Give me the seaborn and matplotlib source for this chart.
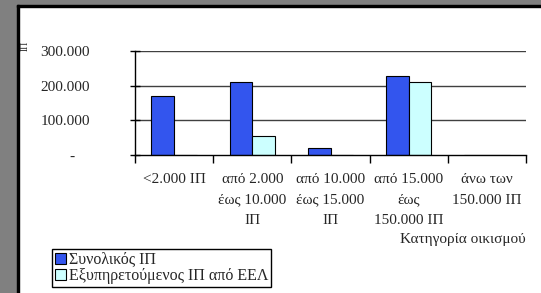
import matplotlib
matplotlib.use("Agg")
import matplotlib.pyplot as plt
from matplotlib.patches import Rectangle
from matplotlib.ticker import FixedLocator, FixedFormatter
import seaborn as sns
import pandas as pd

categories = ["<2.000 ΙΠ", "από 2.000\nέως 10.000\nΙΠ", "από 10.000\nέως 15.000\nΙΠ",
              "από 15.000\nέως\n150.000 ΙΠ", "άνω των\n150.000 ΙΠ"]
series_names = ["Συνολικός ΙΠ", "Εξυπηρετούμενος ΙΠ από ΕΕΛ"]
total_pe = [169000, 212000, 21000, 227000, 0]
served_pe = [0, 56000, 0, 212000, 0]
y_ticks = [0, 100000, 200000, 300000]
y_tick_labels = ["-    ", "100.000", "200.000", "300.000"]
colors = ["#3355EE", "#CCFFFF"]

df = pd.DataFrame({
    "cat": categories * 2,
    "series": [series_names[0]] * 5 + [series_names[1]] * 5,
    "value": total_pe + served_pe,
})

sns.set_style("white")
plt.rcParams["font.family"] = ["Liberation Serif", "DejaVu Serif"]

fig = plt.figure(figsize=(5.41, 2.93), dpi=100)
fig.patch.set_facecolor("white")
W, H = 541, 293
# grey window border
fig.patches.append(Rectangle((0, 0), 17 / W, 1, transform=fig.transFigure, color="#808080", zorder=-10))
fig.patches.append(Rectangle((0, 1 - 5 / H), 1, 5 / H, transform=fig.transFigure, color="#808080", zorder=-10))
fig.patches.append(Rectangle((17 / W, 0), 2 / W, 1 - 5 / H, transform=fig.transFigure, color="black", zorder=-9))
fig.patches.append(Rectangle((17 / W, 1 - 7 / H), 1, 2 / H, transform=fig.transFigure, color="black", zorder=-9))

ax = fig.add_axes([135 / W, 1 - 155 / H, (526 - 135) / W, (155 - 51) / H])
sns.barplot(data=df, x="cat", y="value", hue="series", palette=colors, width=0.58,
            gap=0, saturation=1, edgecolor="black", linewidth=0.8, ax=ax, legend=True)

ax.set_xlim(-0.5, 4.5)
ax.set_ylim(0, 300000)
ax.set_facecolor("none")
for s in ["top", "right"]:
    ax.spines[s].set_visible(False)
ax.spines["left"].set_color("black")
ax.spines["bottom"].set_color("black")
ax.spines["left"].set_linewidth(1)
ax.spines["bottom"].set_linewidth(1)

ax.yaxis.set_major_locator(FixedLocator(y_ticks))
ax.yaxis.set_major_formatter(FixedFormatter(y_tick_labels))
ax.tick_params(axis="y", which="major", left=True, direction="inout", length=7, width=1,
               color="black", labelsize=11, pad=28.8)
for y in y_ticks[1:]:
    ax.axhline(y, color="#404040", lw=1, zorder=0.5)

ax.set_xticks(range(len(categories)), labels=categories, linespacing=1.75,
              multialignment="center")
ax.xaxis.set_minor_locator(FixedLocator([-0.5, 0.5, 1.5, 2.5, 3.5, 4.5]))
ax.tick_params(axis="x", which="minor", bottom=True, direction="out", length=6, width=1, color="black")
ax.tick_params(axis="x", which="major", bottom=True, length=0, labelsize=11, pad=13)

ax.set_ylabel("")
ax.set_xlabel("")
fig.text(526 / W, 1 - 239 / H, "Κατηγορία οικισμού", ha="right", va="center", fontsize=11)
fig.text(25 / W, 1 - 46 / H, "ΙΠ", rotation=90, ha="center", va="center", fontsize=7)

leg = ax.legend(loc="lower left", bbox_to_anchor=(52 / W, 1 - 287 / H), bbox_transform=fig.transFigure,
                frameon=True, fancybox=False, fontsize=11.5, handlelength=0.65, handleheight=0.65,
                handletextpad=0.2, labelspacing=0.0, borderpad=0.2, borderaxespad=0,
                edgecolor="black")
leg.get_frame().set_linewidth(1)
leg.get_frame().set_alpha(1)

fig.savefig("out.png", dpi=100, facecolor="white")
